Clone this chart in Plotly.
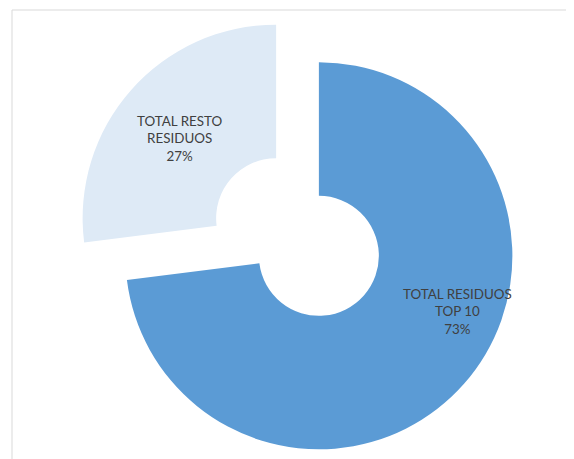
import plotly.graph_objects as go

# residuos: top 10 vs resto
labels = ["TOTAL RESIDUOS TOP 10", "TOTAL RESTO RESIDUOS"]
label_lines = [["TOTAL RESIDUOS", "TOP 10"], ["TOTAL RESTO", "RESIDUOS"]]
values = [73, 27]
colors = ["#5B9BD5", "#DEEAF6"]

W, H = 566, 451  # page body adds 8px margin -> fills the 574x459 window

fig = go.Figure()

fig.add_trace(go.Pie(
    labels=labels,
    values=values,
    sort=False,
    direction="clockwise",
    rotation=0,
    hole=0.31,
    pull=[0.1473, 0.1473],
    marker=dict(colors=colors, line=dict(width=0)),
    textinfo="none",
    hoverinfo="label+percent",
    domain=dict(x=[49.5 / W, 529.5 / W], y=[0.0, 1 - 7 / H]),
    showlegend=False,
))

# data labels placed like excel's "best fit"
total = sum(values)
label_pos = [(449.8, 303.0), (172.0, 130.7)]
for lines, v, (px, py) in zip(label_lines, values, label_pos):
    txt = "<br>".join(lines + ["%d%%" % round(100 * v / total)])
    fig.add_annotation(x=px / W, y=1 - py / H, xref="paper", yref="paper",
                       xanchor="center", yanchor="middle",
                       text=txt, showarrow=False, align="center",
                       font=dict(family="Lato", size=13.4, color="#404040"))

# thin chart-area border (top and left edges visible)
fig.add_shape(type="line", xref="paper", yref="paper",
              x0=4 / W, x1=1, y0=1 - 2 / H, y1=1 - 2 / H,
              line=dict(color="#D9D9D9", width=1))
fig.add_shape(type="line", xref="paper", yref="paper",
              x0=4 / W, x1=4 / W, y0=0, y1=1 - 2 / H,
              line=dict(color="#D9D9D9", width=1))

fig.update_layout(
    width=W,
    height=H,
    margin=dict(l=0, r=0, t=0, b=0),
    paper_bgcolor="white",
    plot_bgcolor="white",
)

fig.write_html("out.html")
